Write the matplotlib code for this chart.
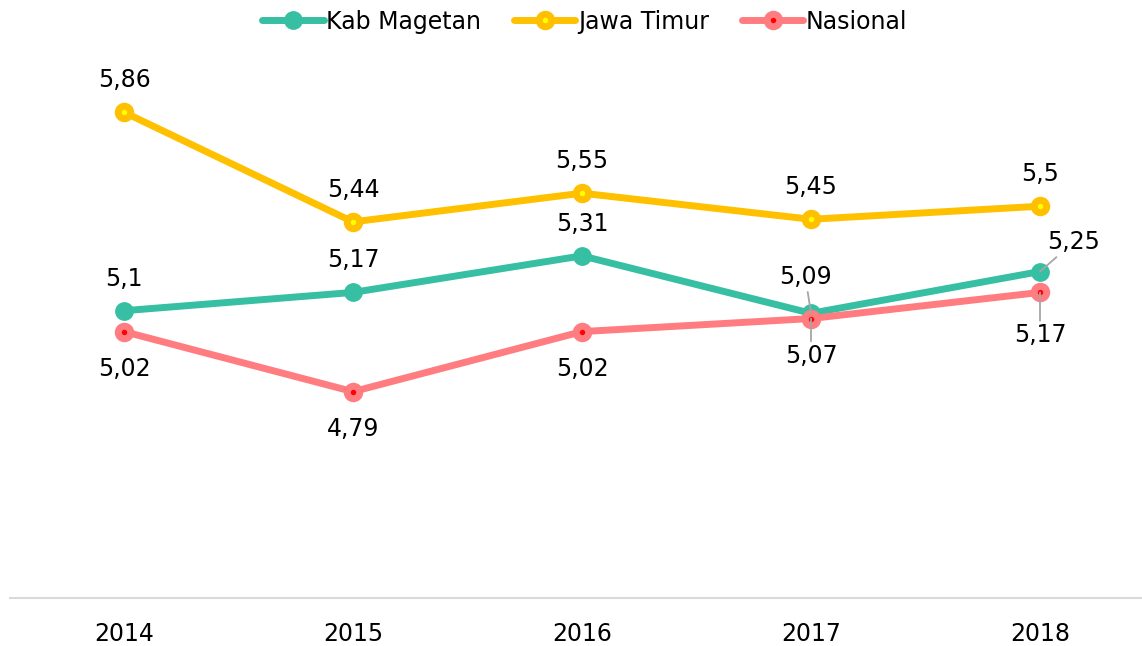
import matplotlib.pyplot as plt
import numpy as np

years = ['2014', '2015', '2016', '2017', '2018']
kab_magetan = [5.10, 5.17, 5.31, 5.09, 5.25]
jawa_timur = [5.86, 5.44, 5.55, 5.45, 5.50]
nasional = [5.02, 4.79, 5.02, 5.07, 5.17]

# label offsets in points (dx, dy), leader line flag
kab_offsets = [(0, 23, False), (0, 23, False), (0, 23, False), (-4, 26, True), (24, 21, True)]
jatim_offsets = [(0, 23, False)] * 5
nas_offsets = [(0, -27, False), (0, -27, False), (0, -27, False), (0, -27, True), (0, -31, True)]

c_kab = '#36BFA2'
c_jat = '#FFC000'
c_nas = '#FF7C80'

fig = plt.figure(figsize=(11.42, 6.46), dpi=100)
ax = fig.add_axes([9.5 / 1142, 48 / 646, 1 - 9.5 / 1142, (598 - 23.4) / 646])
x = np.arange(len(years))

ax.plot(x, kab_magetan, color=c_kab, lw=5, marker='o', ms=12.5, mfc=c_kab, mec=c_kab, mew=1,
        label='Kab Magetan', solid_capstyle='round', zorder=3)
ax.plot(x, jawa_timur, color=c_jat, lw=5, marker='o', ms=9, mfc='#FFFF00', mec=c_jat, mew=5,
        label='Jawa Timur', solid_capstyle='round', zorder=3)
ax.plot(x, nasional, color=c_nas, lw=5, marker='o', ms=9, mfc='#FF0000', mec=c_nas, mew=5,
        label='Nasional', solid_capstyle='round', zorder=4)


def fmt(v):
    return ('%g' % v).replace('.', ',')


def labels(vals, offs):
    for i, v in enumerate(vals):
        dx, dy, lead = offs[i]
        kw = {}
        if lead:
            kw['arrowprops'] = dict(arrowstyle='-', color='#A6A6A6', lw=1.3, shrinkA=0, shrinkB=0)
        ax.annotate(fmt(v), xy=(i, v), xytext=(dx, dy), textcoords='offset points',
                    ha='center', va='center', fontsize=17, color='#000000', zorder=5, **kw)


labels(kab_magetan, kab_offsets)
labels(jawa_timur, jatim_offsets)
labels(nasional, nas_offsets)

ax.set_xlim(-0.5, (1142 - 124) / 229)
ax.set_ylim(4.0, 6.2)
ax.set_xticks(x)
ax.set_xticklabels(years, fontsize=17)
ax.tick_params(axis='x', length=0, pad=17)
ax.set_yticks([])
for s in ['top', 'right', 'left']:
    ax.spines[s].set_visible(False)
ax.spines['bottom'].set_color('#D9D9D9')
ax.spines['bottom'].set_linewidth(1.5)

fig.legend(loc='upper center', bbox_to_anchor=(0.512, 1.018), ncol=3, frameon=False,
           fontsize=17, handlelength=2.6, handletextpad=0.1, columnspacing=1.4)

fig.savefig('out.png', dpi=100)
